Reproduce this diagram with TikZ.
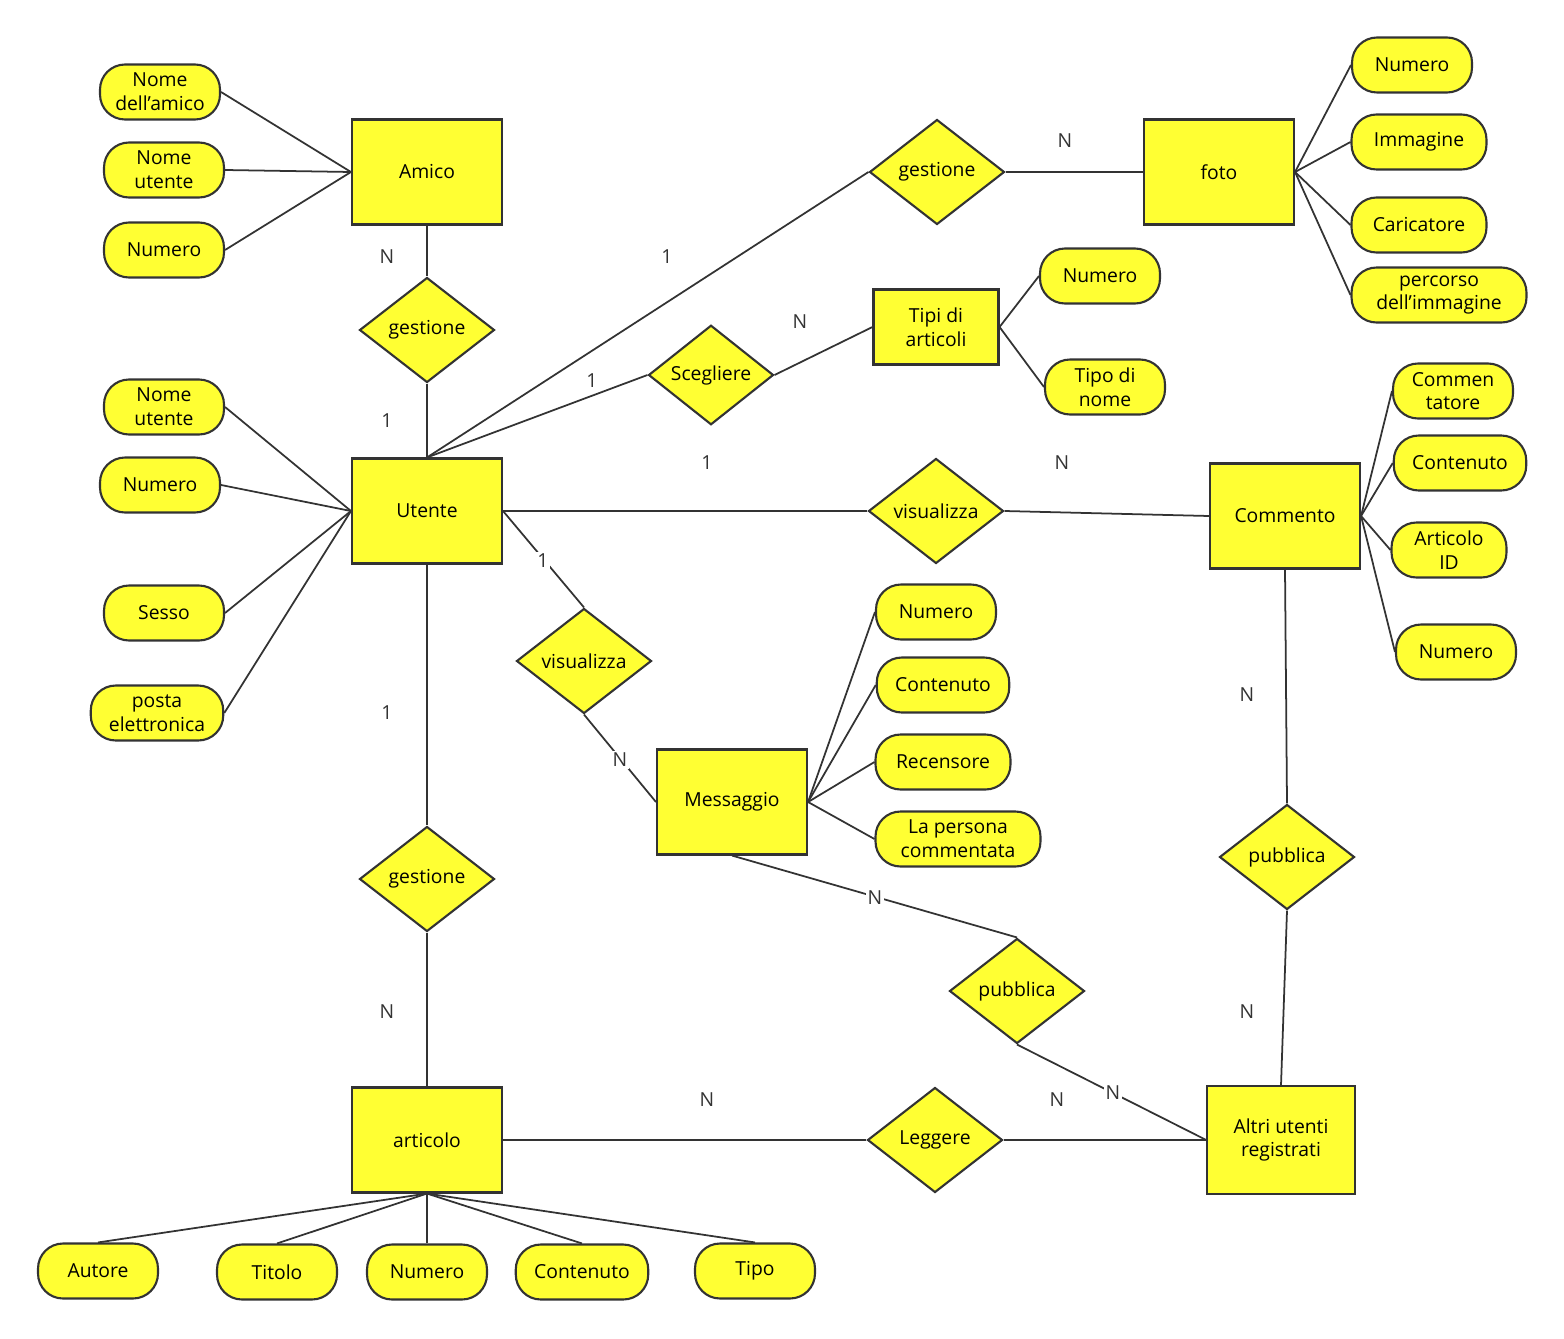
\documentclass[tikz,border=0pt]{standalone}
\usepackage{fontspec}
\setmainfont{Open Sans}
\usetikzlibrary{shapes.geometric}
\definecolor{erfill}{RGB}{255,255,51}
\definecolor{erline}{RGB}{51,51,51}
\tikzset{
  entity/.style={rectangle, draw=erline, line width=1.2pt, fill=erfill, minimum width=3cm, minimum height=2.1cm, align=center},
  relation/.style={diamond, draw=erline, line width=1.2pt, fill=erfill, minimum width=2.7cm, minimum height=2.1cm, inner sep=0pt, align=center},
  attr/.style={rectangle, rounded corners=0.5cm, draw=erline, line width=1.2pt, fill=erfill, minimum width=2.4cm, minimum height=1.1cm, inner sep=1pt, align=center},
  link/.style={draw=erline, line width=1pt},
  card/.style={text=erline},
  oncard/.style={card, fill=white, inner sep=1pt}
}
\begin{document}
\begin{tikzpicture}[x=0.02cm, y=-0.02cm, font=\fontsize{11}{13.5}\selectfont]
\useasboundingbox (0,0) rectangle (1564,1338);
% entities
\node[entity] (amico) at (427,172) {Amico};
\node[entity] (foto) at (1219,172) {foto};
\node[entity, minimum width=2.5cm, minimum height=1.5cm] (tipi) at (936,327) {Tipi di\\articoli};
\node[entity] (utente) at (427,511) {Utente};
\node[entity] (commento) at (1285,516) {Commento};
\node[entity] (messaggio) at (732,802) {Messaggio};
\node[entity] (articolo) at (427,1140) {articolo};
\node[entity, minimum width=2.95cm, minimum height=2.15cm] (altri) at (1281,1140) {Altri utenti\\registrati};
% relations
\node[relation] (gest1) at (427,330) {gestione};
\node[relation] (gest2) at (937,172) {gestione};
\node[relation, minimum width=2.5cm, minimum height=1.6cm] (scegl) at (711,375) {Scegliere};
\node[relation] (vis1) at (936,511) {visualizza};
\node[relation] (vis2) at (584,661) {visualizza};
\node[relation] (gest3) at (427,879) {gestione};
\node[relation] (pubb1) at (1287,857) {pubblica};
\node[relation] (pubb2) at (1017,991) {pubblica};
\node[relation] (legg) at (935,1140) {Leggere};
% attributes
\node[attr] (am1) at (160,92) {Nome\\dell\symbol{39}amico};
\node[attr] (am2) at (164,170) {Nome\\utente};
\node[attr] (am3) at (164,250) {Numero};
\node[attr] (ut1) at (164,407) {Nome\\utente};
\node[attr] (ut2) at (160,485) {Numero};
\node[attr] (ut3) at (164,613) {Sesso};
\node[attr, minimum width=2.65cm] (ut4) at (157,713) {posta\\elettronica};
\node[attr] (fo1) at (1412,65) {Numero};
\node[attr, minimum width=2.7cm] (fo2) at (1419,142) {Immagine};
\node[attr, minimum width=2.7cm] (fo3) at (1419,225) {Caricatore};
\node[attr, minimum width=3.5cm] (fo4) at (1439,295) {percorso\\dell\symbol{39}immagine};
\node[attr] (ti1) at (1100,276) {Numero};
\node[attr] (ti2) at (1105,387) {Tipo di\\nome};
\node[attr] (co1) at (1453,391) {Commen\\tatore};
\node[attr, minimum width=2.65cm] (co2) at (1460,463) {Contenuto};
\node[attr, minimum width=2.3cm] (co3) at (1449,550) {Articolo\\ID};
\node[attr] (co4) at (1456,652) {Numero};
\node[attr] (me1) at (936,612) {Numero};
\node[attr, minimum width=2.65cm] (me2) at (943,685) {Contenuto};
\node[attr, minimum width=2.7cm] (me3) at (943,762) {Recensore};
\node[attr, minimum width=3.3cm] (me4) at (958,839) {La persona\\commentata};
\node[attr] (ar1) at (98,1271) {Autore};
\node[attr] (ar2) at (277,1272) {Titolo};
\node[attr] (ar3) at (427,1272) {Numero};
\node[attr, minimum width=2.65cm] (ar4) at (582,1272) {Contenuto};
\node[attr] (ar5) at (755,1271) {Tipo};
% attribute links
\foreach \a in {am1,am2,am3} \draw[link] (\a.east) -- (amico.west);
\foreach \a in {ut1,ut2,ut3,ut4} \draw[link] (\a.east) -- (utente.west);
\foreach \a in {fo1,fo2,fo3,fo4} \draw[link] (\a.west) -- (foto.east);
\foreach \a in {ti1,ti2} \draw[link] (\a.west) -- (tipi.east);
\foreach \a in {co1,co2,co3,co4} \draw[link] (\a.west) -- (commento.east);
\foreach \a in {me1,me2,me3,me4} \draw[link] (\a.west) -- (messaggio.east);
\foreach \a in {ar1,ar2,ar3,ar4,ar5} \draw[link] (\a.north) -- (articolo.south);
% relation links
\draw[link] (amico.south) -- (gest1.north);
\draw[link] (gest1.south) -- (utente.north);
\draw[link] (utente.north) -- (gest2.west);
\draw[link] (gest2.east) -- (foto.west);
\draw[link] (utente.north) -- (scegl.west);
\draw[link] (scegl.east) -- (tipi.west);
\draw[link] (utente.east) -- (vis1.west);
\draw[link] (vis1.east) -- (commento.west);
\draw[link] (utente.east) -- (vis2.north);
\draw[link] (vis2.south) -- (messaggio.west);
\draw[link] (messaggio.south) -- (pubb2.north);
\draw[link] (pubb2.south) -- (altri.west);
\draw[link] (commento.south) -- (pubb1.north);
\draw[link] (pubb1.south) -- (altri.north);
\draw[link] (utente.south) -- (gest3.north);
\draw[link] (gest3.south) -- (articolo.north);
\draw[link] (articolo.east) -- (legg.west);
\draw[link] (legg.east) -- (altri.west);
% cardinalities
\node[card] (c1) at (387,257) {N};
\node[card] (c2) at (387,421) {1};
\node[card] (c3) at (667,257) {1};
\node[card] (c4) at (1065,141) {N};
\node[card] (c5) at (592,381) {1};
\node[card] (c6) at (800,322) {N};
\node[card] (c7) at (707,463) {1};
\node[card] (c8) at (1062,463) {N};
\node[oncard] (c9) at (543,561) {1};
\node[oncard] (c10) at (620,760) {N};
\node[card] (c11) at (387,713) {1};
\node[card] (c12) at (387,1012) {N};
\node[oncard] (c13) at (875,898) {N};
\node[oncard] (c14) at (1113,1093) {N};
\node[card] (c15) at (1247,695) {N};
\node[card] (c16) at (1247,1012) {N};
\node[card] (c17) at (707,1100) {N};
\node[card] (c18) at (1057,1100) {N};
\end{tikzpicture}
\end{document}
